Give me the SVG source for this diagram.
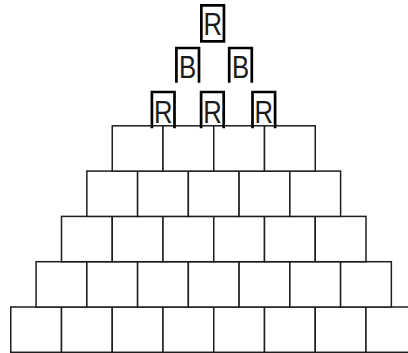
<svg xmlns="http://www.w3.org/2000/svg" width="408" height="353" viewBox="0 0 408 353">
<style>
.cell{fill:#fff;stroke:#1e1e1e;stroke-width:1.5}
.tok{fill:none;stroke:#000;stroke-width:2.7;stroke-linejoin:miter}
.lbl{font-family:"Liberation Sans",Arial,sans-serif;font-size:32px;fill:#1a1a1a;text-anchor:middle}
</style>
<rect width="408" height="353" fill="#fff"/>
<g id="grid">
<g id="row0">
<rect class="cell" x="10.75" y="307" width="50.75" height="45.3"/>
<rect class="cell" x="61.5" y="307" width="50.75" height="45.3"/>
<rect class="cell" x="112.25" y="307" width="50.75" height="45.3"/>
<rect class="cell" x="163" y="307" width="50.75" height="45.3"/>
<rect class="cell" x="213.75" y="307" width="50.75" height="45.3"/>
<rect class="cell" x="264.5" y="307" width="50.75" height="45.3"/>
<rect class="cell" x="315.25" y="307" width="50.75" height="45.3"/>
<rect class="cell" x="366" y="307" width="50.75" height="45.3"/>
</g>
<g id="row1">
<rect class="cell" x="36.1" y="261.7" width="50.75" height="45.3"/>
<rect class="cell" x="86.85" y="261.7" width="50.75" height="45.3"/>
<rect class="cell" x="137.6" y="261.7" width="50.75" height="45.3"/>
<rect class="cell" x="188.35" y="261.7" width="50.75" height="45.3"/>
<rect class="cell" x="239.1" y="261.7" width="50.75" height="45.3"/>
<rect class="cell" x="289.85" y="261.7" width="50.75" height="45.3"/>
<rect class="cell" x="340.6" y="261.7" width="50.75" height="45.3"/>
</g>
<g id="row2">
<rect class="cell" x="61.5" y="216.4" width="50.75" height="45.3"/>
<rect class="cell" x="112.25" y="216.4" width="50.75" height="45.3"/>
<rect class="cell" x="163" y="216.4" width="50.75" height="45.3"/>
<rect class="cell" x="213.75" y="216.4" width="50.75" height="45.3"/>
<rect class="cell" x="264.5" y="216.4" width="50.75" height="45.3"/>
<rect class="cell" x="315.25" y="216.4" width="50.75" height="45.3"/>
</g>
<g id="row3">
<rect class="cell" x="86.85" y="171.1" width="50.75" height="45.3"/>
<rect class="cell" x="137.6" y="171.1" width="50.75" height="45.3"/>
<rect class="cell" x="188.35" y="171.1" width="50.75" height="45.3"/>
<rect class="cell" x="239.1" y="171.1" width="50.75" height="45.3"/>
<rect class="cell" x="289.85" y="171.1" width="50.75" height="45.3"/>
</g>
<g id="row4">
<rect class="cell" x="112.25" y="125.8" width="50.75" height="45.3"/>
<rect class="cell" x="163" y="125.8" width="50.75" height="45.3"/>
<rect class="cell" x="213.75" y="125.8" width="50.75" height="45.3"/>
<rect class="cell" x="264.5" y="125.8" width="50.75" height="45.3"/>
</g>
</g>
<g id="token-top-R">
<rect class="tok" x="201.35" y="5.35" width="22.6" height="36"/>
<text class="lbl" x="212.65" y="35" textLength="18.5" lengthAdjust="spacingAndGlyphs">R</text>
</g>
<g id="token-B1">
<path class="tok" d="M176.4,82.7 V48 H199 V82.7"/>
<text class="lbl" x="187.7" y="77.5" textLength="17.2" lengthAdjust="spacingAndGlyphs">B</text>
</g>
<g id="token-B2">
<path class="tok" d="M229.2,82.7 V48 H251.8 V82.7"/>
<text class="lbl" x="240.5" y="77.5" textLength="17.2" lengthAdjust="spacingAndGlyphs">B</text>
</g>
<g id="token-R1">
<path class="tok" d="M151.9,128.3 V92 H174.5 V128.3"/>
<text class="lbl" x="163.2" y="122.5" textLength="18.5" lengthAdjust="spacingAndGlyphs">R</text>
</g>
<g id="token-R2">
<path class="tok" d="M201.1,128.3 V92 H223.7 V128.3"/>
<text class="lbl" x="212.4" y="122.5" textLength="18.5" lengthAdjust="spacingAndGlyphs">R</text>
</g>
<g id="token-R3">
<path class="tok" d="M252.5,128.3 V92 H275.1 V128.3"/>
<text class="lbl" x="263.8" y="122.5" textLength="18.5" lengthAdjust="spacingAndGlyphs">R</text>
</g>
</svg>
